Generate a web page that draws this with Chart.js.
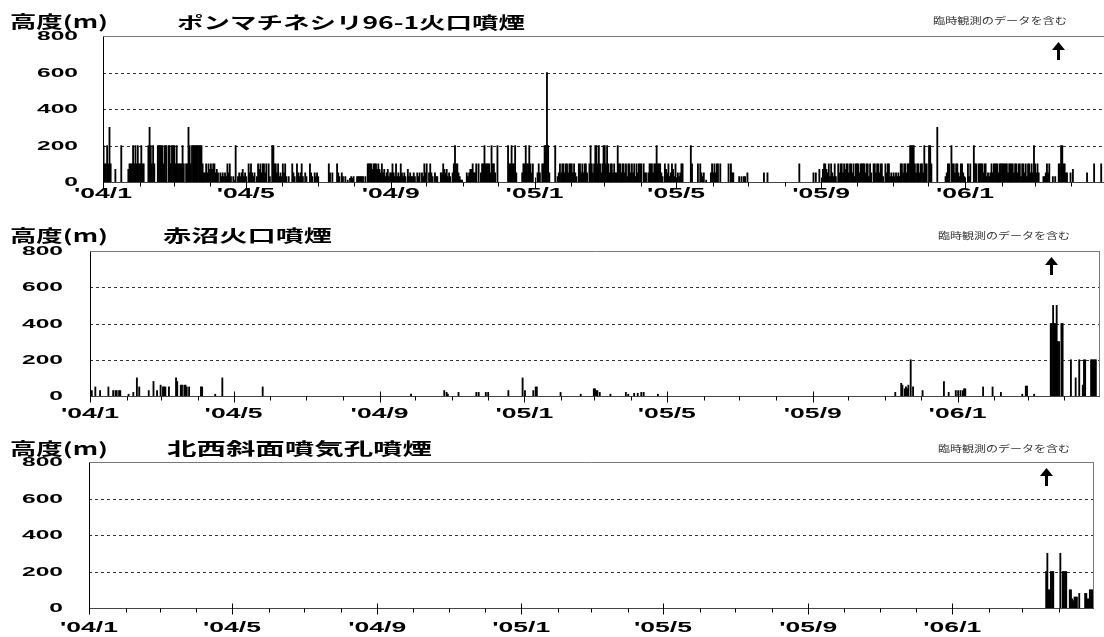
<!DOCTYPE html>
<html><head><meta charset="utf-8">
<script src="https://cdn.jsdelivr.net/npm/chart.js@4.4.1/dist/chart.umd.min.js"></script>
<style>
html,body{margin:0;padding:0;background:#fff;overflow:hidden;width:1104px;height:637px;}
#stage{position:relative;width:1104px;height:637px;overflow:hidden;background:#fff;}
canvas{position:absolute;left:0;}
.lbl{position:absolute;white-space:nowrap;transform-origin:0 0;font-family:"Noto Sans CJK JP","Noto Sans",sans-serif;color:#000;line-height:1;z-index:5;}
</style></head><body><div id="stage">
<canvas id="c1" width="1110" height="190" style="top:20px"></canvas>
<canvas id="c2" width="1104" height="190" style="top:236px"></canvas>
<canvas id="c3" width="1104" height="190" style="top:447px"></canvas>
</div>
<script>
// ---------------- DATA ----------------
const titleAxis = '高度(m)';
const titlePon = 'ポンマチネシリ96-1火口噴煙';
const titleAkanuma = '赤沼火口噴煙';
const titleHokusei = '北西斜面噴気孔噴煙';
const noteText = '臨時観測のデータを含む';

const xTickLabels = ["'04/1","'04/5","'04/9","'05/1","'05/5","'05/9","'06/1"];
const yTicks = [0, 200, 400, 600, 800];
const arrowDay = 810; // day index (from 2004/1/1) where the arrow marks extra observations

// Ponmachineshiri 96-1 crater: daily heights (m), one array per month
const pon2004 = [
  [200,100,100,200,100,300,100,0,0,0,70,0,0,0,0,200,0,0,0,0,0,70,100,100,100,200,100,200,100,200,100],
  [100,200,100,100,0,0,0,200,300,200,100,200,100,0,0,200,200,200,200,200,100,200,200,0,200,200,100,200,200],
  [200,100,200,100,100,100,100,200,100,0,100,100,300,200,100,200,200,200,200,200,200,200,200,200,100,50,50,100,50,100,70],
  [100,70,100,100,50,70,50,0,50,30,50,30,50,30,100,50,100,30,0,30,10,200,0,30,50,30,50,70,30,50],
  [30,0,100,50,100,50,30,50,0,30,100,70,100,50,100,100,50,100,0,100,30,0,200,200,100,100,50,100,30,50,30],
  [100,50,100,30,0,30,0,0,100,50,30,0,100,50,30,50,100,30,0,50,30,0,0,100,50,30,0,50,30,50],
  [30,0,0,0,0,0,0,0,0,100,50,0,50,0,0,0,100,50,30,0,50,30,0,30,0,10,0,20,30,20,30],
  [0,0,30,30,30,30,30,30,0,30,0,100,100,100,100,70,100,100,100,70,100,70,50,100,50,70,30,50,70,30,50],
  [50,100,50,30,100,30,50,30,100,50,30,50,30,0,70,30,50,30,30,50,30,0,50,30,50,0,50,30,100,50],
  [100,0,50,100,50,30,0,50,30,30,0,0,50,50,100,70,50,70,30,50,30,0,50,100,200,100,100,50,30,10,10],
  [0,0,0,50,30,50,70,70,100,50,50,100,0,100,0,50,100,100,200,100,100,100,100,50,200,100,100,50,0,200],
  [0,0,0,0,0,0,0,0,200,100,100,200,100,100,200,50,0,0,0,0,50,100,100,200,100,100,200,100,50,100,0]
];
const pon2005 = [
  [0,0,50,100,50,0,100,100,200,200,600,200,50,0,0,0,0,200,0,30,50,100,50,100,100,50,100,100,50,100,100],
  [100,50,100,50,30,0,100,100,50,100,50,100,100,50,0,100,200,100,50,100,200,200,100,200,100,50,100,200],
  [200,100,200,100,50,100,100,50,100,50,50,200,100,100,50,100,100,50,100,30,100,100,50,100,50,100,30,100,50,100,100],
  [100,0,100,50,50,0,50,100,100,100,50,100,100,200,100,100,100,50,30,0,100,70,50,100,30,50,100,70,30,100],
  [0,50,30,50,100,100,0,0,0,0,0,0,200,100,0,0,0,0,100,0,100,50,30,50,0,10,0,0,0,50,100],
  [50,100,50,100,100,0,100,0,0,0,0,0,0,100,0,100,50,50,0,0,0,0,30,0,30,0,30,30,0,50],
  [0,0,0,0,0,0,0,0,0,0,0,0,0,50,0,0,50,0,0,0,0,0,0,0,0,0,0,0,0,0,0],
  [0,0,0,0,0,0,0,0,0,0,0,0,100,0,0,0,0,0,0,0,0,0,0,0,50,0,50,0,0,70,0],
  [0,70,100,100,70,50,100,30,100,50,30,100,30,0,100,50,100,100,50,100,70,100,100,50,100,100,50,100,30,100],
  [100,100,50,100,100,100,100,50,100,100,30,100,50,0,100,100,50,100,100,50,100,100,30,0,100,50,100,100,30,50,30],
  [50,30,50,30,50,30,100,100,50,100,100,50,100,100,200,200,200,200,100,50,100,100,50,100,100,50,200,100,100,0],
  [200,200,100,0,0,0,0,300,0,0,0,0,0,0,30,50,100,100,0,200,100,100,50,100,100,50,30,100,100,50,30]
];
const pon2006 = [
  [0,0,100,30,100,0,0,200,100,100,0,100,100,100,100,50,100,100,30,50,30,50,100,50,100,100,100,100,50,100,100],
  [100,100,100,100,100,50,100,100,100,100,50,100,100,50,100,100,30,100,100,50,100,30,100,100,50,100,50,200],
  [100,50,100,50,0,0,0,30,30,50,100,50,100,0,0,30,0,30,0,0,100,100,200,200,100,100,50,50,0,0,50],
  [0,70,0,0,0,0,0,0,0,0,0,0,0,50,0,0,0,0,0,100,0,0,0,0,0,100,0,0,0,0]
];

// Akanuma crater: observed days (index from 2004/1/1) and heights (m)
const akanumaDays = [1,4,8,15,19,21,22,24,25,32,36,39,41,49,53,56,59,61,62,63,66,72,73,76,77,79,80,81,83,93,94,105,111,145,
  270,298,300,301,310,325,327,333,335,352,364,366,373,375,376,396,413,424,425,426,427,429,438,451,453,458,461,464,466,478,
  678,683,684,686,687,688,689,691,693,701,719,723,729,731,733,735,736,737,752,760,767,785,788,789,795,
  809,810,811,812,813,814,815,816,818,819,826,830,833,836,837,838,843,844,845,846,847];
const akanumaHeights = [30,50,30,50,30,30,30,30,30,10,20,100,50,30,80,30,60,50,50,50,50,100,80,60,60,60,60,50,50,50,50,10,100,50,
  10,30,20,10,20,20,20,20,20,30,100,30,30,50,50,20,10,40,40,30,30,20,10,20,10,15,15,20,20,10,
  20,70,60,40,50,40,60,200,50,30,80,20,30,30,30,30,40,40,50,50,20,10,55,55,10,
  400,400,500,400,400,500,300,300,400,400,200,100,200,60,200,200,200,200,200,200,200];

// North-west flank fumarole
const hokuseiDays = [810,811,812,813,814,815,816,822,824,825,826,827,830,831,832,833,834,835,836,838,843,844,845,846,847,848,849];
const hokuseiHeights = [200,300,100,100,200,200,200,300,200,200,200,200,100,100,50,40,60,60,60,80,80,80,50,50,100,100,100];

// ---------------- DATE HELPERS ----------------
const START = Date.UTC(2004, 0, 1);
function dayIndex(y, m, d) { return Math.round((Date.UTC(y, m, d) - START) / 86400000); }
const monthStarts = [];
for (let k = 0; k <= 28; k++) monthStarts.push(dayIndex(2004, k, 1));
const xMax = monthStarts[28];

const ponPoints = [];
[...pon2004, ...pon2005, ...pon2006].forEach((arr, k) => {
  arr.forEach((v, i) => { if (v > 0) ponPoints.push({ x: monthStarts[k] + i + 0.5, y: v }); });
});
const akanumaPoints = akanumaDays.map((d, i) => ({ x: d + 0.5, y: akanumaHeights[i] }));
const hokuseiPoints = hokuseiDays.map((d, i) => ({ x: d + 0.5, y: hokuseiHeights[i] }));

// ---------------- DECOR PLUGIN ----------------
function decor(cfg) {
  return {
    id: 'decor',
    beforeDatasetsDraw(chart) {
      const { ctx, chartArea: a } = chart; const y = chart.scales.y;
      ctx.save();
      ctx.strokeStyle = '#333'; ctx.lineWidth = 1; ctx.setLineDash([3, 3]);
      yTicks.forEach(v => {
        if (v <= 0 || v >= 800) return;
        const py = Math.round(y.getPixelForValue(v)) + 0.5;
        ctx.beginPath(); ctx.moveTo(a.left, py); ctx.lineTo(a.right, py); ctx.stroke();
      });
      ctx.restore();
    },
    afterDatasetsDraw(chart) {
      const { ctx, chartArea: a } = chart; const x = chart.scales.x, y = chart.scales.y;
      ctx.save();
      const top = Math.round(a.top) + 0.5, bot = Math.round(a.bottom) + 0.5;
      const left = Math.round(a.left) + 0.5, right = Math.round(a.right) - 0.5;
      ctx.lineWidth = 1;
      ctx.strokeStyle = '#7a7a7a';
      ctx.beginPath(); ctx.moveTo(left, top); ctx.lineTo(a.right, top);
      if (cfg.rightBorder) { ctx.moveTo(right, top); ctx.lineTo(right, bot); }
      ctx.stroke();
      ctx.strokeStyle = '#444';
      ctx.beginPath(); ctx.moveTo(left, bot); ctx.lineTo(a.right, bot); ctx.stroke();
      ctx.strokeStyle = '#000';
      ctx.beginPath(); ctx.moveTo(left, top); ctx.lineTo(left, bot + 1); ctx.stroke();
      // month ticks
      for (let k = 0; k < 28; k++) {
        const px = Math.round(x.getPixelForValue(monthStarts[k])) + 0.5;
        const major = k % 4 === 0;
        ctx.beginPath(); ctx.moveTo(px, major ? bot - 5 : bot); ctx.lineTo(px, bot + (major ? 6 : 4)); ctx.stroke();
      }
      // y labels
      ctx.fillStyle = '#000';
      ctx.textBaseline = 'middle';
      ctx.font = 'bold 13px "Liberation Sans", Arial, sans-serif';
      const ys = 41 / ctx.measureText('800').width;
      yTicks.forEach(v => {
        const lab = String(v);
        const w = ctx.measureText(lab).width * ys;
        const py = y.getPixelForValue(v) + 0.5;
        ctx.save(); ctx.translate(cfg.yLabelRight - w, py); ctx.scale(ys, 1); ctx.fillText(lab, 0, 0); ctx.restore();
      });
      // x labels
      ctx.font = 'bold 14px "Liberation Sans", Arial, sans-serif';
      const xs = 58 / ctx.measureText(xTickLabels[0]).width;
      xTickLabels.forEach((lab, i) => {
        const px = x.getPixelForValue(monthStarts[i * 4]);
        const w = ctx.measureText(lab).width * xs;
        ctx.save(); ctx.translate(px - w / 2, cfg.xLabelY); ctx.scale(xs, 1); ctx.fillText(lab, 0, 0); ctx.restore();
      });
      // arrow
      const ax = Math.round(x.getPixelForValue(arrowDay));
      const tip = a.top + 6, tail = a.top + 24;
      ctx.fillStyle = '#000';
      ctx.beginPath(); ctx.moveTo(ax + 0.5, tip); ctx.lineTo(ax - 6, tip + 8); ctx.lineTo(ax + 7, tip + 8); ctx.closePath(); ctx.fill();
      ctx.fillRect(ax - 1, tip + 7, 3, tail - tip - 7);
      ctx.restore();
    }
  };
}

function makeChart(id, points, pad, cfg) {
  return new Chart(document.getElementById(id), {
    type: 'bar',
    data: { datasets: [{ data: points, backgroundColor: '#000', borderWidth: 0, barPercentage: 1, categoryPercentage: 1 }] },
    options: {
      responsive: false, animation: false, events: [],
      layout: { padding: pad },
      plugins: { legend: { display: false }, tooltip: { enabled: false } },
      scales: {
        x: { type: 'linear', min: 0, max: xMax, offset: false, grid: { display: false, drawTicks: false }, border: { display: false }, ticks: { display: false } },
        y: { min: 0, max: 800, ticks: { display: false, stepSize: 200 }, grid: { display: false, drawTicks: false }, border: { display: false } }
      }
    },
    plugins: [decor(cfg)]
  });
}

makeChart('c1', ponPoints, { left: 103, right: 3.5, top: 16, bottom: 28 }, { rightBorder: false, yLabelRight: 78, xLabelY: 174 });
makeChart('c2', akanumaPoints, { left: 90, right: 4, top: 15, bottom: 30 }, { rightBorder: true, yLabelRight: 63, xLabelY: 178 });
makeChart('c3', hokuseiPoints, { left: 89, right: 10, top: 15, bottom: 29 }, { rightBorder: true, yLabelRight: 63, xLabelY: 181 });

// ---------------- TEXT LABELS (HTML) ----------------
const stage = document.getElementById('stage');
function addText(t, x0, x1, cy, size, color, weight) {
  const el = document.createElement('div');
  el.className = 'lbl'; el.textContent = t;
  el.style.fontSize = size + 'px'; el.style.color = color || '#000'; el.style.fontWeight = weight || 'normal';
  el.style.left = x0 + 'px'; el.style.top = cy + 'px';
  stage.appendChild(el);
  const w = el.getBoundingClientRect().width;
  const s = (x1 - x0) / w;
  el.style.transform = 'translateY(-50%) scaleX(' + s + ')';
  return el;
}
function layoutText() {
  stage.querySelectorAll('.lbl').forEach(e => e.remove());
  addText(titleAxis, 10, 108, 20, 17, '#000', 'bold');
  addText(titlePon, 177, 525, 21, 17, '#000', 'bold');
  addText(noteText, 933, 1067, 20, 9, '#333');
  addText(titleAxis, 10, 108, 234, 17, '#000', 'bold');
  addText(titleAkanuma, 163, 332, 234, 17, '#000', 'bold');
  addText(noteText, 938, 1070, 235, 9, '#333');
  addText(titleAxis, 10, 108, 447, 17, '#000', 'bold');
  addText(titleHokusei, 167, 432, 447, 17, '#000', 'bold');
  addText(noteText, 938, 1070, 448, 9, '#333');
}
layoutText();
if (document.fonts && document.fonts.ready) document.fonts.ready.then(layoutText);
</script></body></html>
